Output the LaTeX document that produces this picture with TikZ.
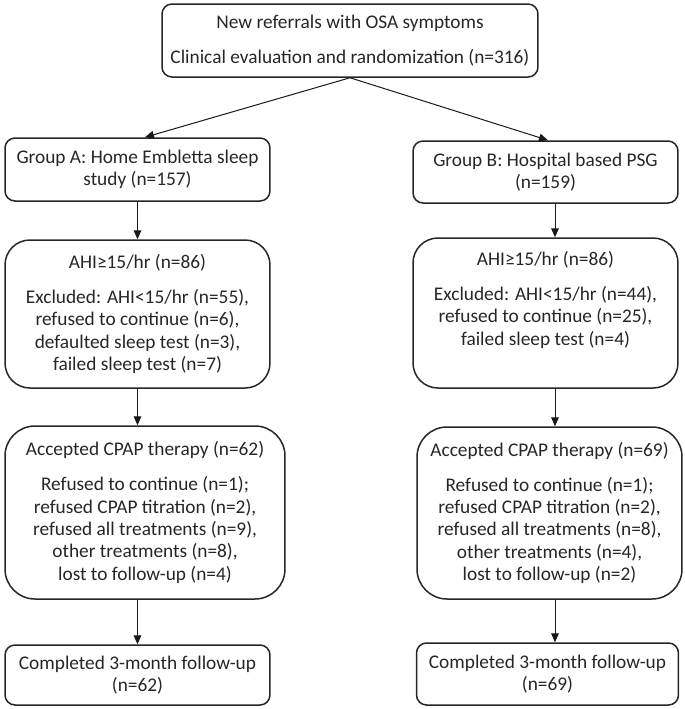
\documentclass[tikz,border=0pt]{standalone}
\usepackage{fontspec}
\setmainfont{Carlito}
\usetikzlibrary{arrows.meta}

\tikzset{
    box/.style={draw=black!85, line width=0.9pt, rounded corners=6pt, align=center,
        inner sep=0pt, text=black!85, font=\fontsize{11.6pt}{13.4pt}\selectfont,
        execute at begin node={\rule{0pt}{13pt}}},
    bigbox/.style={box, rounded corners=15pt},
    hugebox/.style={box, rounded corners=18pt},
    arr/.style={draw=black!90, line width=0.6pt, -{Triangle[length=5.4pt,width=4.6pt]}}
}

\begin{document}
\begin{tikzpicture}[x=0.6pt,y=-0.6pt]

    \useasboundingbox (0,0) rectangle (685,709);

    % referrals
    \node[box, minimum width=225.6pt, minimum height=43.8pt] (top) at (350,40.5)
        {New referrals with OSA symptoms\\[7.5pt] Clinical evaluation and randomization (n=316)};

    % groups
    \node[box, minimum width=159pt, minimum height=37.8pt] (gA) at (137.5,169.5)
        {Group A: Home Embletta sleep\\ study (n=157)};
    \node[box, minimum width=159pt, minimum height=37.2pt] (gB) at (545.5,172)
        {Group B: Hospital based PSG\\ (n=159)};
    \draw[arr] (top.south) -- ([xshift=4.5pt]gA.north);
    \draw[arr] (top.south) -- ([xshift=1.5pt]gB.north);

    %%%%%%%%%%%%%%%%%%%%%%%%%%%%%%%%%%%%%%%%%%%%%%%%%%%%%%%%%

    % AHI and exclusions
    \node[bigbox, minimum width=159pt, minimum height=88.8pt] (ahiA) at (137.5,314)
        {AHI≥15/hr (n=86)\\[7.5pt] Excluded: AHI<15/hr (n=55),\\ refused to continue (n=6),\\
         defaulted sleep test (n=3),\\ failed sleep test (n=7)};
    \node[bigbox, minimum width=159pt, minimum height=90pt] (ahiB) at (545.5,313)
        {AHI≥15/hr (n=86)\\[7.5pt] Excluded: AHI<15/hr (n=44),\\ refused to continue (n=25),\\
         failed sleep test (n=4)\\ \strut};
    \draw[arr] (gA.south) -- (ahiA.north);
    \draw[arr] ([xshift=5.7pt]gB.south) -- ([xshift=5.7pt]gB.south |- ahiB.north);

    % CPAP
    \node[hugebox, minimum width=168pt, minimum height=103.8pt] (cpapA) at (145,512.5)
        {Accepted CPAP therapy (n=62)\\[7.5pt] Refused to continue (n=1);\\ refused CPAP titration (n=2),\\
         refused all treatments (n=9),\\ other treatments (n=8),\\ lost to follow-up (n=4)};
    \node[hugebox, minimum width=159pt, minimum height=103.2pt] (cpapB) at (549.5,513)
        {Accepted CPAP therapy (n=69)\\[7.5pt] Refused to continue (n=1);\\ refused CPAP titration (n=2),\\
         refused all treatments (n=8),\\ other treatments (n=4),\\ lost to follow-up (n=2)};
    \draw[arr] (ahiA.south) -- (ahiA.south |- cpapA.north);
    \draw[arr] ([xshift=5.7pt]ahiB.south) -- ([xshift=5.7pt]ahiB.south |- cpapB.north);

    % follow-up
    \node[box, minimum width=159pt, minimum height=36pt] (compA) at (137.5,675)
        {Completed 3-month follow-up\\ (n=62)};
    \node[box, minimum width=157.2pt, minimum height=37.2pt] (compB) at (547.5,674)
        {Completed 3-month follow-up\\ (n=69)};
    \draw[arr] (compA.north |- cpapA.south) -- (compA.north);
    \draw[arr] ([xshift=3.3pt]cpapB.south) -- ([xshift=3.3pt]cpapB.south |- compB.north);

\end{tikzpicture}
\end{document}
